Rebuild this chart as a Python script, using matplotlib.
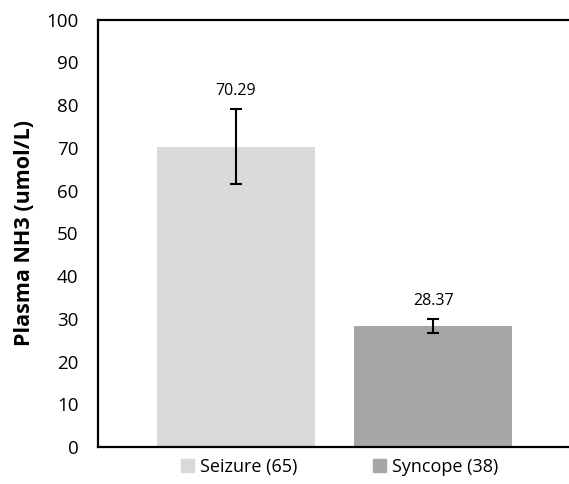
import matplotlib.pyplot as plt
from matplotlib.patches import Patch

plt.rcParams['font.family'] = ['Open Sans', 'DejaVu Sans']

groups = ['Seizure (65)', 'Syncope (38)']
values = [70.29, 28.37]
errors = [8.85, 1.65]
colors = ['#d9d9d9', '#a6a6a6']
positions = [0.293, 0.712]

fig = plt.figure(figsize=(5.69, 4.84), dpi=100)
ax = fig.add_axes([0.172, 0.0764, 0.828, 0.8833])

ax.bar(positions, values, width=0.335, color=colors, zorder=2)
ax.errorbar(positions, values, yerr=errors, fmt='none', ecolor='black',
            elinewidth=1.5, capsize=4, capthick=1.5, zorder=3)

for x, v, e in zip(positions, values, errors):
    ax.annotate(f'{v:.2f}', (x, v + e), xytext=(0, 7), textcoords='offset points',
                ha='center', va='bottom', fontsize=11.5)

ax.set_xlim(0, 1)
ax.set_ylim(0, 100)
ax.set_yticks(range(0, 101, 10))
ax.set_xticks([])
ax.tick_params(axis='y', length=0, pad=14, labelsize=13.5)
ax.set_ylabel('Plasma NH3 (umol/L)', fontsize=15.5, fontweight='bold', labelpad=8)

ax.spines['right'].set_visible(False)
for s in ['left', 'top', 'bottom']:
    ax.spines[s].set_linewidth(1.6)

handles = [Patch(color=c, label=g) for c, g in zip(colors, groups)]
fig.legend(handles=handles, loc='center', bbox_to_anchor=(0.597, 0.035), ncol=2,
           frameon=False, fontsize=13, handlelength=0.7, handleheight=0.7,
           handletextpad=0.35, columnspacing=4.2)

fig.savefig('out.png', dpi=100)
